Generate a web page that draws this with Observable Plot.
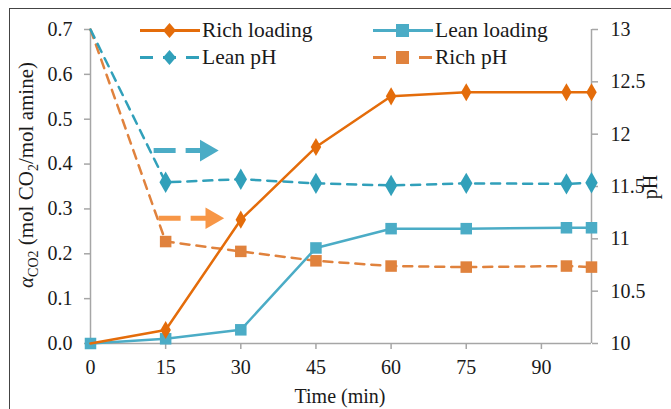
<!DOCTYPE html>
<html><head><meta charset="utf-8">
<script src="https://cdn.jsdelivr.net/npm/d3@7"></script>
<script src="https://cdn.jsdelivr.net/npm/@observablehq/plot@0.6"></script>
<style>
body{margin:0;background:#fff;}
#wrap{position:relative;width:671px;height:409px;font-family:"Liberation Serif","Times New Roman",serif;color:#1a1a1a;overflow:hidden}
#wrap svg.plot{position:absolute;left:0;top:0}
#wrap svg.plot text{font-family:"Liberation Serif","Times New Roman",serif !important;font-size:20px !important}
.frame{position:absolute;left:9px;top:8px;width:700px;height:500px;border-left:1.5px solid #444;border-top:1.5px solid #444}
.lab{position:absolute;font-size:20px;white-space:nowrap;font-weight:normal}
.leg{position:absolute;font-size:21.5px;white-space:nowrap;display:flex;align-items:center}
.leg svg{margin-right:2px}
</style></head><body>
<div id="wrap"><div class="frame"></div></div>
<script>
const time = [0, 15, 30, 45, 60, 75, 95, 100];
const richLoading = [0, 0.030, 0.276, 0.438, 0.551, 0.560, 0.560, 0.560];
const leanLoading = [0, 0.0105, 0.0305, 0.213, 0.256, 0.256, 0.258, 0.258];
const leanPH = [13, 11.54, 11.57, 11.53, 11.51, 11.53, 11.525, 11.535];
const richPH = [13, 10.974, 10.88, 10.79, 10.74, 10.73, 10.74, 10.73];
const xTicks = [0, 15, 30, 45, 60, 75, 90];
const leftTicks = [0, 0.1, 0.2, 0.3, 0.4, 0.5, 0.6, 0.7];
const rightTicks = [10, 10.5, 11, 11.5, 12, 12.5, 13];
// annotation arrows (time, loading-axis value)
const arrowBlue = {x1: 12.6, x2: 24.5, y: 0.430};
const arrowOrange = {x1: 13.6, x2: 25.6, y: 0.279};

const C = {rich: "#E46C0A", lean: "#4BACC6", leanPH: "#31A0BA", richPH: "#E0823D", arrB: "#4BACC6", arrO: "#F79646"};
const toLeft = p => (p - 10) * 0.7 / 3;

const rows = (ys, conv = v => v) => time.map((t, i) => ({t, v: conv(ys[i])}));
const rl = rows(richLoading), ll = rows(leanLoading);
const lp = rows(leanPH, toLeft), rp = rows(richPH, toLeft);

const arrowMarks = (a, color) => [
  Plot.link([a], {x1: "x1", x2: d => d.x2 - 2.2, y1: "y", y2: "y", stroke: color, strokeWidth: 5, strokeDasharray: "22,10"}),
  Plot.dot([a], {x: d => d.x2 - 1.4, y: "y", symbol: "triangle", r: 8, rotate: 90, fill: color})
];

const plot = Plot.plot({
  width: 671, height: 409,
  marginLeft: 90, marginRight: 80, marginTop: 29, marginBottom: 66,
  x: {domain: [0, 100]},
  y: {domain: [0, 0.7]},
  style: {fontFamily: "'Liberation Serif', 'Times New Roman', serif", fontSize: "20px", color: "#1a1a1a", background: "transparent"},
  marks: [
    Plot.ruleY([0], {stroke: "#a6a6a6", strokeWidth: 1.5}),
    Plot.ruleX([0], {stroke: "#a6a6a6", strokeWidth: 1.5}),
    Plot.ruleX([100], {stroke: "#a6a6a6", strokeWidth: 1.5}),
    Plot.axisX(xTicks, {tickSize: 6, tickPadding: 10, stroke: "#a6a6a6", strokeWidth: 1.5, label: null, fill: "#1a1a1a"}),
    Plot.axisY(leftTicks, {anchor: "left", tickSize: 6, tickPadding: 12, tickFormat: d3.format(".1f"), stroke: "#a6a6a6", strokeWidth: 1.5, label: null, fill: "#1a1a1a"}),
    Plot.axisY(rightTicks.map(toLeft), {anchor: "right", tickSize: 6, tickPadding: 13, tickFormat: (d, i) => String(rightTicks[i]), stroke: "#a6a6a6", strokeWidth: 1.5, label: null, fill: "#1a1a1a"}),
    ...arrowMarks(arrowBlue, C.arrB),
    ...arrowMarks(arrowOrange, C.arrO),
    Plot.line(rp, {x: "t", y: "v", stroke: C.richPH, strokeWidth: 2.5, strokeDasharray: "9,7"}),
    Plot.dot(rp.slice(1), {x: "t", y: "v", symbol: "square", r: 6.5, fill: C.richPH}),
    Plot.line(lp, {x: "t", y: "v", stroke: C.leanPH, strokeWidth: 2.5, strokeDasharray: "9,7"}),
    Plot.dot(lp.slice(1), {x: "t", y: "v", symbol: "diamond", r: 6.5, fill: C.leanPH}),
    Plot.line(ll, {x: "t", y: "v", stroke: C.lean, strokeWidth: 2.5}),
    Plot.dot(ll, {x: "t", y: "v", symbol: "square", r: 6.5, fill: C.lean}),
    Plot.line(rl, {x: "t", y: "v", stroke: C.rich, strokeWidth: 2.5}),
    Plot.dot(rl.slice(1), {x: "t", y: "v", symbol: "diamond", r: 5.5, fill: C.rich})
  ]
});
plot.classList.add("plot");
const wrap = document.getElementById("wrap");
wrap.appendChild(plot);

function add(html, cls, style) {
  const d = document.createElement("div");
  d.className = cls; d.innerHTML = html; Object.assign(d.style, style);
  wrap.appendChild(d); return d;
}
// axis titles
add("Time (min)", "lab", {left: "340px", top: "396px", transform: "translate(-50%,-50%)"});
add('<i>α</i><sub style="font-size:14px">CO2</sub> (mol CO<sub style="font-size:14px">2</sub>/mol amine)', "lab",
  {left: "28px", top: "175px", fontSize: "21px", transform: "translate(-50%,-50%) rotate(-90deg)"});
add("pH", "lab", {left: "650px", top: "187px", transform: "translate(-50%,-50%) rotate(-90deg)"});

// legend
function legIcon(color, dashed, symbol) {
  const mk = symbol === "square"
    ? `<rect x="23" y="4" width="13" height="13" fill="${color}"/>`
    : `<path d="M29.5 3 L36 10.5 L29.5 18 L23 10.5Z" fill="${color}"/>`;
  return `<svg width="60" height="21"><line x1="0" x2="60" y1="10.5" y2="10.5" stroke="${color}" stroke-width="3" ${dashed ? 'stroke-dasharray="13,10"' : ""}/>${mk}</svg>`;
}
add(legIcon(C.rich, false, "diamond") + "Rich loading", "leg", {left: "140px", top: "18px"});
add(legIcon(C.leanPH, true, "diamond") + "Lean pH", "leg", {left: "140px", top: "45px"});
add(legIcon(C.lean, false, "square") + "Lean loading", "leg", {left: "373px", top: "18px"});
add(legIcon(C.richPH, true, "square") + "Rich pH", "leg", {left: "373px", top: "45px"});
</script>
</body></html>
